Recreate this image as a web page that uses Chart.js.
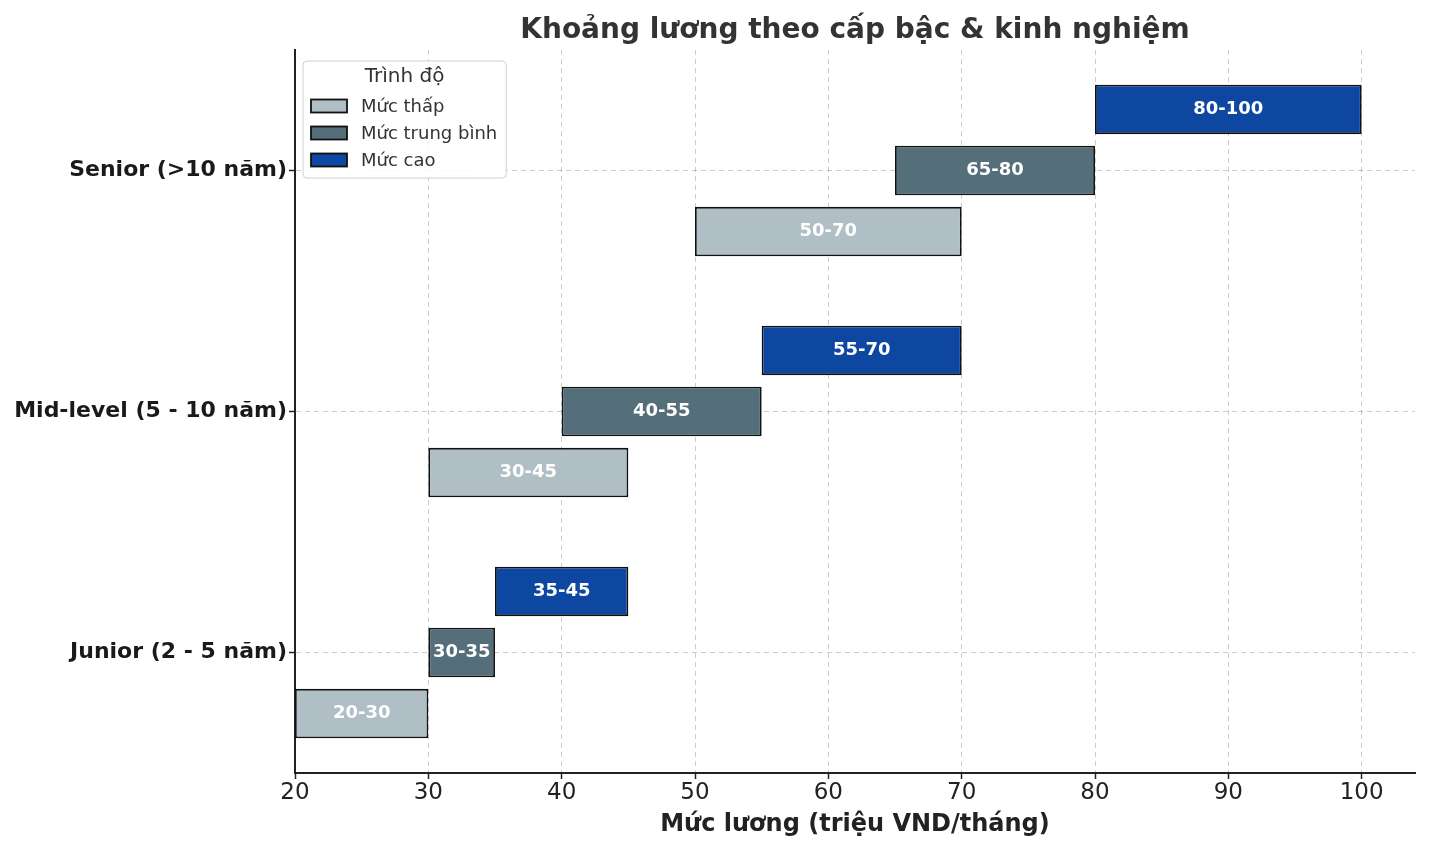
<!DOCTYPE html>
<html lang="vi">
<head>
    <meta charset="UTF-8">
    <title>Khoảng lương theo cấp bậc & kinh nghiệm</title>
    <script src="https://cdn.jsdelivr.net/npm/chart.js"></script>
    <style>
        html, body { margin: 0; padding: 0; background: #ffffff; }
        #wrap { width: 1430px; height: 852px; }
    </style>
</head>
<body>
<div id="wrap"><canvas id="salaryChart" width="1430" height="852"></canvas></div>
<script>
    // dữ liệu
    const categories = ['Junior (2 - 5 năm)', 'Mid-level (5 - 10 năm)', 'Senior (>10 năm)'];
    const levelNames = ['Mức thấp', 'Mức trung bình', 'Mức cao'];
    const lowRange = [[20, 30], [30, 45], [50, 70]];
    const midRange = [[30, 35], [40, 55], [65, 80]];
    const highRange = [[35, 45], [55, 70], [80, 100]];
    const xTicks = [20, 30, 40, 50, 60, 70, 80, 90, 100];

    const colors = ['#B0BEC5', '#546E7A', '#0D47A1'];
    const FONT = '"DejaVu Sans", Verdana, sans-serif';

    // dataset đầu tiên nằm trên cùng trong nhóm -> đảo thứ tự
    const ranges = [lowRange, midRange, highRange];
    const datasets = ranges.map((r, i) => ({
        label: levelNames[i],
        data: r,
        backgroundColor: colors[i],
        borderColor: '#111111',
        borderWidth: 1.8,
        borderSkipped: false
    })).reverse();

    const barLabels = {
        id: 'barLabels',
        afterDatasetsDraw(chart) {
            const ctx = chart.ctx;
            ctx.save();
            ctx.font = 'bold 18px ' + FONT;
            ctx.fillStyle = '#ffffff';
            ctx.textAlign = 'center';
            ctx.textBaseline = 'middle';
            chart.data.datasets.forEach((ds, di) => {
                chart.getDatasetMeta(di).data.forEach((bar, j) => {
                    const v = ds.data[j];
                    const p = bar.getCenterPoint();
                    ctx.fillText(v[0] + '-' + v[1], p.x, p.y);
                });
            });
            ctx.restore();
        }
    };

    const titleAndLegend = {
        id: 'titleAndLegend',
        afterDraw(chart) {
            const ctx = chart.ctx;
            const area = chart.chartArea;
            ctx.save();
            ctx.setLineDash([]);
            // tiêu đề
            ctx.font = 'bold 28px ' + FONT;
            ctx.fillStyle = '#333333';
            ctx.textAlign = 'center';
            ctx.textBaseline = 'middle';
            ctx.fillText('Khoảng lương theo cấp bậc & kinh nghiệm', (area.left + area.right) / 2, 31);

            // chú thích
            ctx.font = '18px ' + FONT;
            let maxW = 0;
            levelNames.forEach(n => { maxW = Math.max(maxW, ctx.measureText(n).width); });
            const bx = area.left + 8, by = area.top + 11;
            const bw = 58 + maxW + 9, bh = 117;
            ctx.beginPath();
            ctx.roundRect(bx, by, bw, bh, 4);
            ctx.fillStyle = 'rgba(255,255,255,0.85)';
            ctx.fill();
            ctx.strokeStyle = '#d0d0d0';
            ctx.lineWidth = 1;
            ctx.stroke();

            ctx.font = '20px ' + FONT;
            ctx.fillStyle = '#333333';
            ctx.textAlign = 'center';
            ctx.fillText('Trình độ', bx + bw / 2, by + 16);

            ctx.font = '18px ' + FONT;
            ctx.textAlign = 'left';
            levelNames.forEach((n, i) => {
                const cy = by + 45 + i * 27;
                ctx.fillStyle = colors[i];
                ctx.fillRect(bx + 8, cy - 6.5, 36, 13);
                ctx.strokeStyle = '#111111';
                ctx.lineWidth = 1.8;
                ctx.strokeRect(bx + 8, cy - 6.5, 36, 13);
                ctx.fillStyle = '#333333';
                ctx.fillText(n, bx + 58, cy + 1);
            });
            ctx.restore();
        }
    };

    const gridOpts = {
        color: 'rgba(0,0,0,0.2)',
        lineWidth: 1,
        tickColor: '#222222',
        tickLength: 6,
        tickWidth: 1.5,
        tickBorderDash: []
    };

    const ctx = document.getElementById('salaryChart').getContext('2d');
    new Chart(ctx, {
        type: 'bar',
        data: { labels: categories, datasets: datasets },
        options: {
            indexAxis: 'y',
            responsive: false,
            animation: false,
            categoryPercentage: 0.76,
            barPercentage: 0.81,
            layout: { padding: { top: 50, right: 15, left: 0, bottom: 0 } },
            plugins: {
                legend: { display: false },
                title: { display: false },
                tooltip: { enabled: false }
            },
            scales: {
                x: {
                    type: 'linear',
                    min: 20,
                    max: 104,
                    afterBuildTicks: (scale) => { scale.ticks = xTicks.map(v => ({ value: v })); },
                    afterFit: (scale) => { scale.height = 79; },
                    border: { display: true, color: '#222222', width: 2, dash: [5, 4] },
                    grid: gridOpts,
                    ticks: {
                        color: '#222222',
                        font: { family: FONT, size: 23 },
                        padding: 0
                    },
                    title: {
                        display: true,
                        text: 'Mức lương (triệu VND/tháng)',
                        color: '#222222',
                        font: { family: FONT, size: 24, weight: 'bold' },
                        padding: { top: 0, bottom: 13 }
                    }
                },
                y: {
                    type: 'category',
                    reverse: true,
                    offset: true,
                    afterFit: (scale) => { scale.width = 295; },
                    border: { display: true, color: '#222222', width: 2, dash: [5, 4] },
                    grid: Object.assign({ offset: false }, gridOpts),
                    ticks: {
                        color: '#1a1a1a',
                        font: { family: FONT, size: 22, weight: 'bold' },
                        padding: 2
                    }
                }
            }
        },
        plugins: [barLabels, titleAndLegend]
    });
</script>
</body>
</html>
